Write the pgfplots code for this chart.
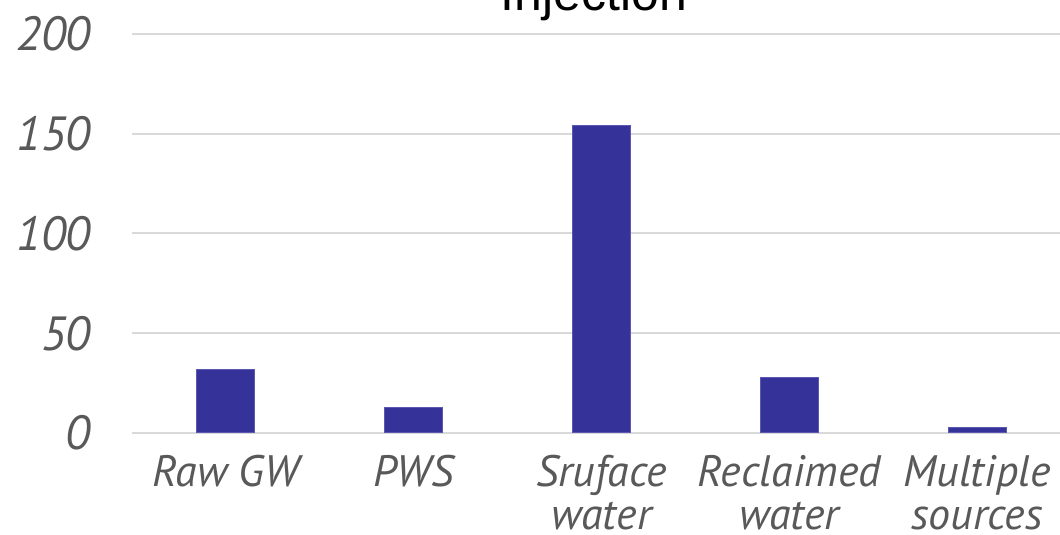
\documentclass[border=0pt]{standalone}
\usepackage{pgfplots}
\pgfplotsset{compat=1.18}
\usepackage{fontspec}
\setmainfont{PT Sans}
\newfontfamily\titlefont{Liberation Sans}
\definecolor{barblue}{HTML}{353399}
\definecolor{baredge}{HTML}{5A58B0}
\definecolor{gridgrey}{HTML}{D9D9D9}
\definecolor{ticktext}{HTML}{595959}
\begin{document}
\begin{tikzpicture}
\useasboundingbox (-66pt,-51pt) rectangle (464pt,216.5pt);
\clip (-66pt,-51pt) rectangle (464pt,216.5pt);
\begin{pgfinterruptboundingbox}
\begin{axis}[
  scale only axis,
  width=469.5pt, height=199.5pt,
  xmin=-0.5, xmax=4.5,
  ymin=0, ymax=200,
  axis line style={draw=none},
  xtick={0,1,2,3,4},
  xticklabels={Raw GW, PWS, Sruface\\water, Reclaimed\\water, Multiple\\sources},
  ytick={0,50,100,150,200},
  yticklabels={0,50,100,150,200},
  major tick length=0pt,
  ymajorgrids,
  grid style={gridgrey, line width=1pt},
  yticklabel style={font=\fontsize{24}{24}\selectfont\itshape, text=ticktext, anchor=east, xshift=-17pt},
  xticklabel style={font=\fontsize{22}{21.5}\selectfont\itshape, text=ticktext, align=center, anchor=north, yshift=-7.5pt},
  title={Injection},
  title style={at={(axis description cs:0.492,1)}, anchor=base, yshift=5.5pt, font=\titlefont\fontsize{25}{30}\selectfont},
  ybar, bar width=29pt,
]
\addplot[fill=barblue, draw=baredge, line width=0.5pt] coordinates {(0,32) (1,13) (2,154) (3,28) (4,3)};
\end{axis}
\end{pgfinterruptboundingbox}
\end{tikzpicture}
\end{document}
